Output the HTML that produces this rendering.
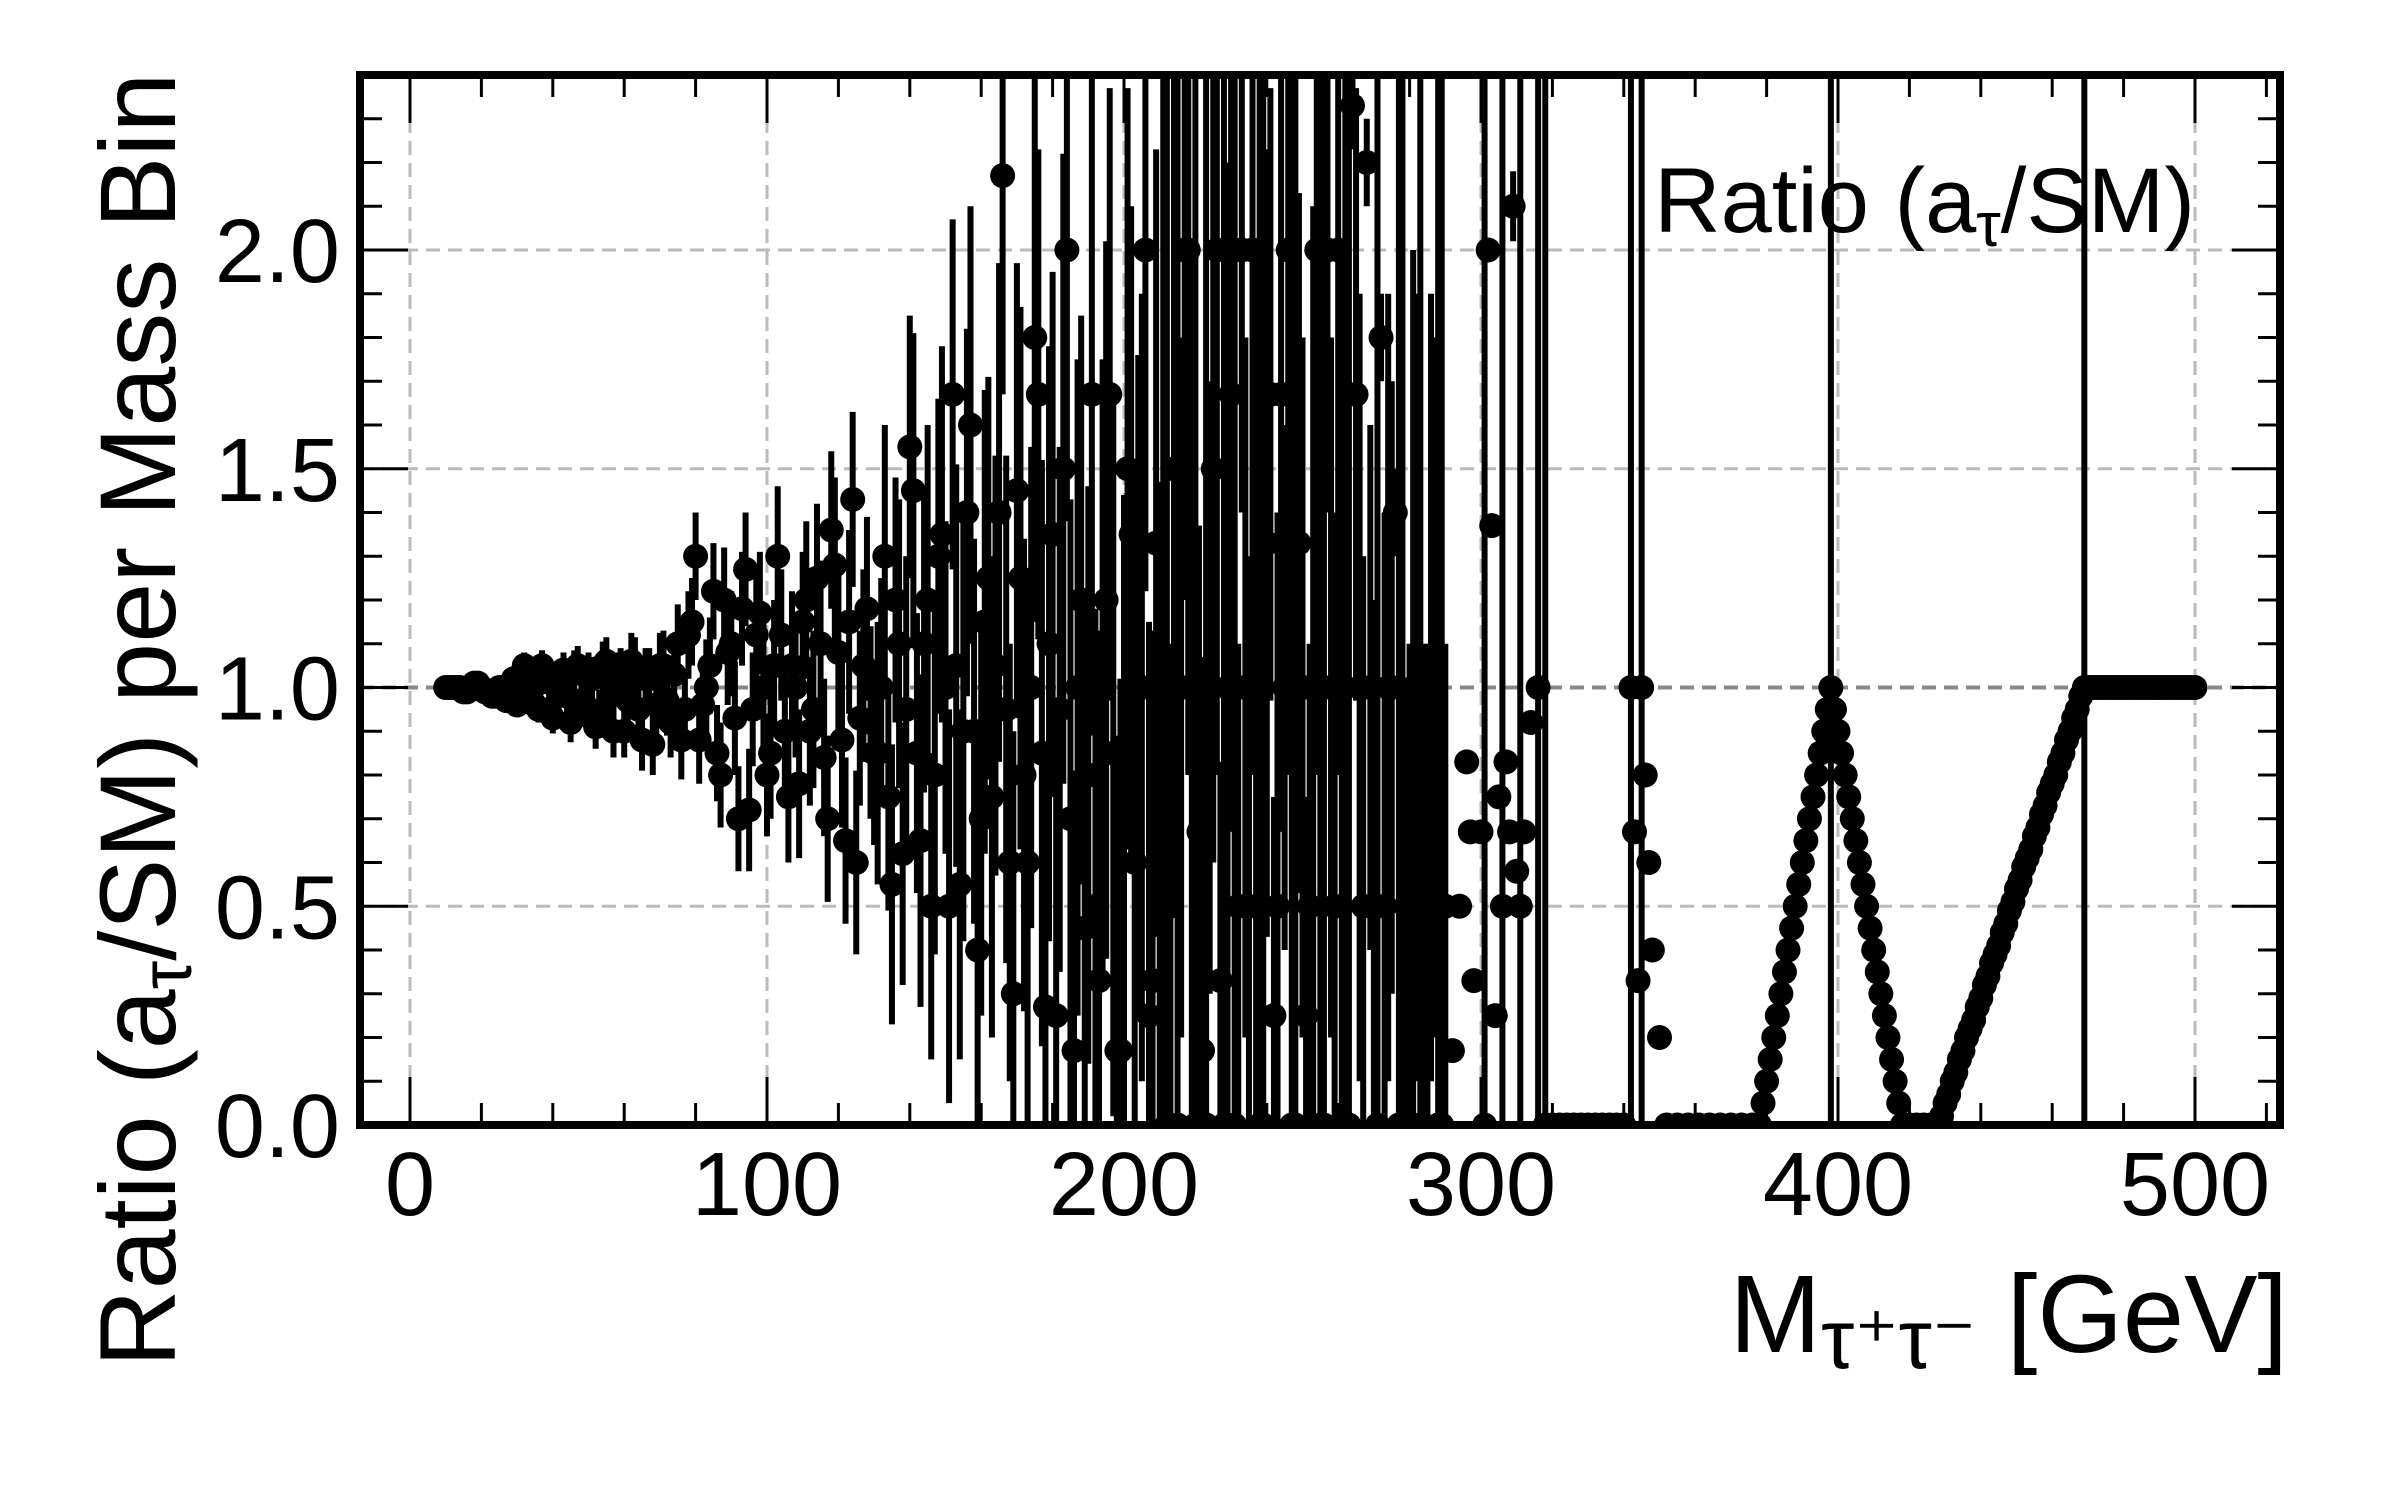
<!DOCTYPE html>
<html><head><meta charset="utf-8"><style>
html,body{margin:0;padding:0;background:#fff;overflow:hidden;width:2400px;height:1500px;}
svg{display:block;font-family:"Liberation Sans",sans-serif;}
</style></head><body>
<svg id="chart" width="2400" height="1500" viewBox="0 0 2400 1500" xmlns="http://www.w3.org/2000/svg">
<defs><clipPath id="plotclip"><rect x="360" y="75" width="1920" height="1050"/></clipPath></defs>
<rect width="2400" height="1500" fill="#fff"/>
<g id="grid"></g>
<g id="marks" clip-path="url(#plotclip)"></g>
<g id="ticks"></g>
<rect x="360" y="75" width="1920" height="1050" fill="none" stroke="#000" stroke-width="8"/>
<g id="labels" font-size="90" fill="#000"></g>
<text transform="translate(175,720) rotate(-90)" text-anchor="middle" font-size="108">Ratio (a<tspan font-size="72" dy="16">τ</tspan><tspan dy="-16">/SM) per Mass Bin</tspan></text>
<text x="2288" y="1352" text-anchor="end" font-size="110">M<tspan font-size="84" dy="16">τ⁺τ⁻</tspan><tspan dy="-16"> [GeV]</tspan></text>
<text x="2195" y="232" text-anchor="end" font-size="92">Ratio (a<tspan font-size="62" dy="14">τ</tspan><tspan dy="-14">/SM)</tspan></text>
</svg>
<script>
const massA = [10,12,14,16,18,20,22,24,26,28,30,32,34,36,38,40,42,44,46,48,50,52,54,56,58,60,62,64,66,68,70];
const ratioA = [1.00,1.00,1.00,0.99,1.01,1.00,0.99,0.98,1.00,0.97,0.96,1.05,0.99,0.95,1.02,0.93,1.01,0.98,1.04,0.97,1.03,0.91,1.05,0.98,1.02,0.90,1.06,0.95,1.02,0.87,1.05];
const errA = [0.01,0.01,0.01,0.01,0.015,0.015,0.02,0.02,0.02,0.02,0.025,0.03,0.03,0.03,0.035,0.035,0.04,0.04,0.045,0.045,0.05,0.05,0.055,0.055,0.06,0.06,0.065,0.065,0.07,0.07,0.075];
const massA2 = [11,13,15,17,19,21,23,25,27,29,31,33,35,37,39,41,43,45,47,49,51,53,55,57,59,61,63,65,67,69];
const ratioA2 = [1.00,1.00,0.99,1.00,1.01,0.99,0.98,1.00,0.97,1.02,0.98,1.03,0.96,1.05,0.95,1.00,1.04,0.92,1.05,0.96,1.02,0.94,1.06,0.90,1.03,0.97,1.05,0.88,1.02,0.96];
const errA2 = [0.01,0.01,0.01,0.015,0.015,0.02,0.02,0.02,0.025,0.025,0.03,0.03,0.03,0.035,0.035,0.04,0.04,0.045,0.045,0.05,0.05,0.055,0.055,0.06,0.06,0.065,0.065,0.07,0.07,0.075];
const massB = [72,74,76,78,80,82,84,86,88,90,92,94,96,98,100,102,104,106,108,110,112,114,116,118,120,122,124,126,128,130];
const ratioB = [0.97,1.03,0.88,1.12,1.30,0.96,1.05,0.85,1.20,1.10,0.70,1.27,0.95,1.17,0.80,1.05,1.12,0.75,1.00,1.15,0.90,1.25,0.84,1.36,1.08,0.65,1.43,0.93,1.18,0.85];
const errB = [0.08,0.09,0.09,0.10,0.10,0.10,0.11,0.11,0.12,0.12,0.12,0.13,0.13,0.14,0.14,0.15,0.15,0.15,0.16,0.16,0.17,0.17,0.18,0.18,0.19,0.19,0.20,0.20,0.21,0.21];
const massB2 = [71,73,75,77,79,81,83,85,87,89,91,93,95,97,99,101,103,105,107,109,111,113,115,117,119,121,123,125,127,129];
const ratioB2 = [1.05,0.92,1.10,0.95,1.15,0.88,1.00,1.22,0.80,1.08,0.93,1.18,0.72,1.12,1.00,0.85,1.30,0.90,1.05,0.78,1.20,0.95,1.10,0.70,1.28,0.88,1.15,0.60,1.05,0.92];
const errB2 = [0.08,0.08,0.09,0.09,0.10,0.10,0.11,0.11,0.12,0.12,0.13,0.13,0.14,0.14,0.15,0.15,0.16,0.16,0.17,0.17,0.18,0.18,0.19,0.19,0.20,0.20,0.21,0.21,0.22,0.22];
const massC = [132,134,136,138,140,142,144,146,148,150,152,154,156,158,160,162,164,166,168,170,172,174,176,178,180,182,184,186,188,190,192,194,196,198,200,202,204,206,208,210];
const ratioC = [1.00,0.75,1.20,0.62,1.55,0.85,1.10,0.50,1.30,1.00,1.67,0.55,1.40,0.90,0.70,1.25,1.05,2.17,0.60,1.45,0.80,1.00,1.67,0.27,1.35,0.95,2.00,0.17,1.20,0.80,0.50,1.05,1.67,0.17,0.70,1.35,1.00,2.00,0.33,0.67];
const errC = [0.25,0.26,0.28,0.30,0.30,0.32,0.34,0.35,0.36,0.38,0.40,0.40,0.42,0.44,0.45,0.46,0.48,0.50,0.50,0.52,0.54,0.55,0.56,0.58,0.60,0.60,0.62,0.64,0.65,0.66,0.68,0.70,0.70,0.72,0.74,0.75,0.76,0.78,0.80,0.80];
const massC2 = [131,133,135,137,139,141,143,145,147,149,151,153,155,157,159,161,163,165,167,169,171,173,175,177,179,181,183,185,187,189,191,193,195,197,199,201,203,205,207,209];
const ratioC2 = [0.85,1.30,0.55,1.10,0.95,1.45,0.65,1.20,0.80,1.35,0.50,1.05,0.90,1.60,0.40,1.15,0.75,1.40,0.95,0.30,1.25,0.60,1.80,0.85,1.10,0.25,1.50,0.70,1.00,0.45,1.67,0.33,1.20,0.85,0.17,1.50,0.60,1.00,0.25,1.33];
const errC2 = [0.30,0.30,0.32,0.33,0.35,0.36,0.38,0.40,0.41,0.43,0.45,0.46,0.48,0.50,0.52,0.53,0.55,0.57,0.58,0.60,0.62,0.63,0.65,0.67,0.68,0.70,0.72,0.73,0.75,0.77,0.78,0.80,0.82,0.83,0.85,0.87,0.88,0.90,0.90,0.90];
const massD = [212,214,216,218,220,222,224,226,228,230,232,234,236,238,240,242,244,246,248,250,252,254,256,258,260,262,264,266,268,270,272,274,276,278,280,282,284,286,288,290];
const ratioD = [0,1.5,1.0,2.0,0,0.17,1.0,2.0,0,1.67,0.5,1.0,2.0,0,1.33,0.25,1.67,2.0,0,1.0,0.5,2.0,0,1.0,2.0,0,2.33,1.0,2.2,0.5,1.8,1.0,1.4,0,0.5,1.0,0.5,1.0,0,0.5];
const errD = [3,1.0,0.8,1.2,3,0.9,0.7,1.2,3,1.0,0.6,0.8,1.2,3,0.9,0.5,1.0,1.2,3,0.8,0.6,1.2,3,0.8,1.2,3,0.1,0.9,0.1,0.7,0.1,0.9,0.1,3,0.6,0.9,0.6,0.9,3,0.6];
const massD2 = [211,213,215,217,219,221,223,225,227,229,231,233,235,237,239,241,243,245,247,249,251,253,255,257,259,261,263,265,267,269,271,273,275,277,279,281,283,285,287,289];
const ratioD2 = [1.0,0.5,0,2.0,1.0,0.67,0,1.5,0.33,1.0,0,2.0,0.5,1.0,0,1.67,0.5,1.0,0,1.33,0.25,1.0,0,2.0,0.5,1.0,0,1.67,0.5,1.0,0,0.5,1.0,0,0.5,1.0,0,0.5,1.0,0];
const errD2 = [3,0.6,3,0.8,1.0,0.7,3,0.9,0.5,1.2,3,0.6,0.8,1.0,3,0.7,0.9,0.6,3,0.8,0.5,1.1,3,0.6,0.9,1.0,3,0.7,0.8,0.6,3,0.9,0.7,3,0.5,1.0,3,0.6,0.8,3];
const massE = [292,294,296,297,298,300,301,302,303,304,305,306,307,308,309,310,311,312,314,316];
const ratioE = [0.17,0.5,0.83,0.67,0.33,0.67,0,2.0,1.37,0.25,0.75,0.5,0.83,0.67,2.1,0.58,0.5,0.67,0.92,1.0];
const errE = [0,0,0,0,0,0,3,0,0,0,0,3,0,0,0.08,0,3,0,0,3];
const massF = [318,320,322,324,326,328,330,332,334,336,338,340,342,343,344,345,346,347,348,350,352,355,358,361,364,367,370,373,376];
const ratioF = [0,0,0,0,0,0,0,0,0,0,0,0,1.0,0.67,0.33,1.0,0.8,0.6,0.4,0.2,0,0,0,0,0,0,0,0,0];
const errF = [3,0,0,0,0,0,0,0,0,0,0,0,3,0,0,3,0,0,0,0,0,0,0,0,0,0,0,0,0];
const massG = [378,379,380,381,382,383,384,385,386,387,388,389,390,391,392,393,394,395,396,397,398,399,400,401,402,403,404,405,406,407,408,409,410,411,412,413,414,415,416,417,418,420,422,424,426,428];
const ratioG = [0,0.05,0.10,0.15,0.20,0.25,0.30,0.35,0.40,0.45,0.50,0.55,0.60,0.65,0.70,0.75,0.80,0.85,0.90,0.95,1.00,0.95,0.90,0.85,0.80,0.75,0.70,0.65,0.60,0.55,0.50,0.45,0.40,0.35,0.30,0.25,0.20,0.15,0.10,0.05,0,0,0,0,0,0];
const errG = [0,0,0,0,0,0,0,0,0,0,0,0,0,0,0,0,0,0,0,0,3,0,0,0,0,0,0,0,0,0,0,0,0,0,0,0,0,0,0,0,0,0,0,0,0,0];
const massH = [429,430,431,432,433,434,435,436,437,438,439,440,441,442,443,444,445,446,447,448,449,450,451,452,453,454,455,456,457,458,459,460,461,462,463,464,465,466,467,468,469];
const ratioH = [0.02,0.05,0.07,0.10,0.12,0.15,0.17,0.20,0.22,0.24,0.27,0.29,0.32,0.34,0.37,0.39,0.41,0.44,0.46,0.49,0.51,0.54,0.56,0.59,0.61,0.63,0.66,0.68,0.71,0.73,0.76,0.78,0.80,0.83,0.85,0.88,0.90,0.93,0.95,0.98,1.00];
const errH = [0,0,0,0,0,0,0,0,0,0,0,0,0,0,0,0,0,0,0,0,0,0,0,0,0,0,0,0,0,0,0,0,0,0,0,0,0,0,0,0,3];
const massI = [470,471,472,473,474,475,476,477,478,479,480,481,482,483,484,485,486,487,488,489,490,491,492,493,494,495,496,497,498,499,500];
const ratioI = [1,1,1,1,1,1,1,1,1,1,1,1,1,1,1,1,1,1,1,1,1,1,1,1,1,1,1,1,1,1,1];
const errI = [0,0,0,0,0,0,0,0,0,0,0,0,0,0,0,0,0,0,0,0,0,0,0,0,0,0,0,0,0,0,0];
const xTickLabels = [0,100,200,300,400,500];
const yTickLabels = ["0.0","0.5","1.0","1.5","2.0"];
const yTickValues = [0,0.5,1.0,1.5,2.0];

const NS = "http://www.w3.org/2000/svg";
const X0 = 410, XS = 3.57, Y0 = 1125, YS = 437.5;
function xPos(v){ return X0 + v*XS; }
function yPos(v){ return Y0 - v*YS; }
function mk(tag, attrs, parent){ const e = document.createElementNS(NS, tag); for (const k in attrs) e.setAttribute(k, attrs[k]); parent.appendChild(e); return e; }

const grid = document.getElementById('grid');
xTickLabels.forEach(v => {
  const l = mk('line', {x1:xPos(v), x2:xPos(v), y1:75, y2:1125, stroke:'#bbb', 'stroke-width':3, 'stroke-dasharray':'14 8'}, grid);
  
  
});
yTickValues.forEach(v => {
  const l = mk('line', {x1:360, x2:2280, y1:yPos(v), y2:yPos(v), stroke: v===1 ? '#888' : '#bbb', 'stroke-width': v===1 ? 4 : 3, 'stroke-dasharray':'14 8'}, grid);
  
  
});

const marks = document.getElementById('marks');
const groups = [[massA,ratioA,errA],[massA2,ratioA2,errA2],[massB,ratioB,errB],[massB2,ratioB2,errB2],[massC,ratioC,errC],[massC2,ratioC2,errC2],[massD,ratioD,errD],[massD2,ratioD2,errD2],[massE,ratioE,errE],[massF,ratioF,errF],[massG,ratioG,errG],[massH,ratioH,errH],[massI,ratioI,errI]];
groups.forEach(g => {
  const [ms, rs, es] = g;
  ms.forEach((m, i) => {
    if (es[i] > 0) {
      const b = mk('line', {x1:xPos(m), x2:xPos(m), y1:yPos(rs[i]-es[i]), y2:yPos(rs[i]+es[i]), stroke:'#000', 'stroke-width':6}, marks);
      
      
    }
  });
});
groups.forEach(g => {
  const [ms, rs] = g;
  ms.forEach((m, i) => {
    const c = mk('circle', {cx:xPos(m), cy:yPos(rs[i]), r:12.5, fill:'#000'}, marks);
    
    
  });
});

const ticks = document.getElementById('ticks');
for (let v = 0; v <= 520; v += 20) {
  const major = v % 100 === 0;
  const len = major ? 48 : 22;
  const t1 = mk('line', {x1:xPos(v), x2:xPos(v), y1:1125, y2:1125-len, stroke:'#000', 'stroke-width':3}, ticks);
  
  
  const t2 = mk('line', {x1:xPos(v), x2:xPos(v), y1:75, y2:75+len, stroke:'#000', 'stroke-width':3}, ticks);
  
  
}
for (let k = 0; k <= 24; k++) {
  const v = k/10;
  const major = k % 5 === 0;
  const len = major ? 48 : 22;
  const t1 = mk('line', {x1:360, x2:360+len, y1:yPos(v), y2:yPos(v), stroke:'#000', 'stroke-width':3}, ticks);
  
  
  const t2 = mk('line', {x1:2280, x2:2280-len, y1:yPos(v), y2:yPos(v), stroke:'#000', 'stroke-width':3}, ticks);
  
  
}

const labels = document.getElementById('labels');
xTickLabels.forEach(v => {
  const t = mk('text', {x:xPos(v), y:1215, 'text-anchor':'middle'}, labels);
  t.textContent = v;
  
  
});
yTickValues.forEach((v, i) => {
  const t = mk('text', {x:340, y:yPos(v)+32, 'text-anchor':'end'}, labels);
  t.textContent = yTickLabels[i];
  
  
});
</script>
</body></html>
